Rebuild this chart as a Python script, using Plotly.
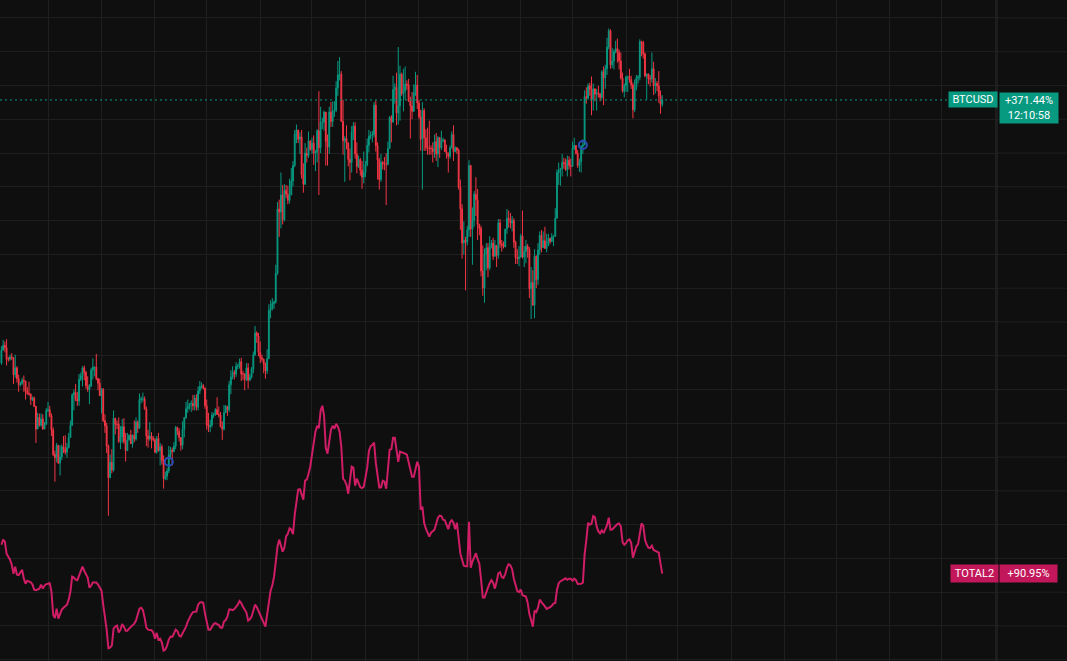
import pandas as pd
import plotly.graph_objects as go

# ---------------- data ----------------
# BTCUSD daily candles from 2024-06-04 to 2025-06-22 (prices in thousand USD)
DATE_START = "2024-06-04"
BTC_FIRST_OPEN = 68.8
BTC_BASE = 21.8          # price that the percentage scale treats as 0 %

BTC_CLOSE = (
    # Jun 2024 (4..30)
    [70.5, 71.1, 70.8, 69.3, 69.3, 69.6, 69.5, 67.3, 68.2, 66.8, 66.0, 66.2, 66.6, 66.5, 65.2, 64.9, 64.8, 64.1, 64.3, 63.2,
     60.3, 61.8, 60.8, 61.6, 60.3, 60.9, 62.7]
    # Jul
    + [62.8, 62.0, 60.2, 57.0, 56.6, 58.2, 55.9, 56.7, 58.0, 57.7, 57.3, 57.9, 59.2, 60.8, 64.7, 65.0, 64.1, 63.9, 66.7, 67.2,
       68.2, 67.6, 65.9, 65.4, 65.8, 67.9, 68.3, 68.3, 66.8, 66.2, 64.6]
    # Aug
    + [65.4, 61.4, 60.7, 58.1, 54.0, 56.0, 55.0, 61.7, 60.9, 60.9, 58.7, 59.3, 60.6, 58.7, 57.5, 58.9, 59.5, 58.4, 59.5, 59.0,
       61.2, 60.4, 64.1, 64.2, 64.2, 62.9, 59.4, 59.0, 59.4, 59.1, 58.9]
    # Sep
    + [57.3, 59.1, 57.5, 58.0, 56.2, 53.9, 54.2, 54.9, 57.0, 57.6, 57.4, 58.1, 60.5, 60.0, 59.2, 58.2, 60.3, 61.8, 62.9, 63.2,
       63.6, 63.6, 63.3, 64.3, 63.1, 65.2, 65.8, 65.9, 65.6, 63.3]
    # Oct
    + [60.8, 60.6, 60.8, 62.1, 62.1, 62.8, 62.2, 62.1, 60.6, 60.3, 62.4, 63.2, 62.8, 66.0, 67.0, 67.6, 67.4, 68.4, 68.4, 69.0,
       67.4, 67.4, 66.7, 68.2, 66.6, 67.0, 68.0, 69.9, 72.7, 72.3, 70.2]
    # Nov
    + [69.5, 69.3, 68.7, 67.8, 69.4, 75.6, 75.9, 76.5, 76.7, 80.4, 88.7, 88.3, 90.5, 87.3, 91.1, 90.6, 89.8, 90.5, 92.3, 94.3,
       98.4, 98.9, 97.7, 98.0, 93.1, 91.9, 95.9, 95.6, 97.5, 96.4]
    # Dec
    + [97.2, 95.9, 96.0, 98.8, 96.6, 99.9, 99.9, 101.2, 97.4, 96.7, 101.2, 100.0, 101.4, 101.4, 104.3, 106.0, 106.1, 100.0, 97.5, 97.8,
       97.2, 95.1, 94.7, 98.6, 99.4, 95.8, 94.2, 95.1, 93.7, 92.8, 93.4]
    # Jan 2025
    + [94.4, 96.9, 98.1, 98.2, 98.3, 102.1, 96.9, 95.0, 92.5, 94.7, 94.5, 94.5, 94.5, 96.5, 100.5, 99.9, 104.1, 104.4, 101.1, 102.0,
       106.1, 103.6, 103.9, 104.8, 104.7, 102.6, 102.0, 101.3, 103.7, 104.7, 102.4]
    # Feb
    + [100.6, 97.7, 101.4, 97.9, 96.6, 96.6, 96.5, 96.5, 96.1, 97.4, 95.8, 97.9, 96.6, 97.5, 97.6, 96.1, 95.8, 95.5, 96.6, 98.3,
       96.1, 96.6, 96.3, 91.5, 88.7, 84.3, 84.7, 84.4]
    # Mar
    + [86.0, 94.3, 86.1, 87.2, 90.6, 89.9, 86.7, 86.2, 80.7, 78.5, 82.9, 83.7, 81.1, 83.9, 84.3, 82.6, 84.0, 82.7, 86.9, 84.2,
       84.0, 83.8, 86.1, 87.5, 87.4, 86.9, 87.2, 84.4, 82.4, 82.3, 82.5]
    # Apr
    + [85.2, 82.5, 83.2, 83.9, 83.5, 78.4, 79.2, 76.3, 82.6, 79.6, 83.4, 85.3, 83.7, 84.6, 83.6, 84.0, 84.9, 84.5, 85.1, 85.2,
       87.5, 93.4, 93.7, 93.9, 94.7, 94.6, 93.8, 95.0, 94.3, 94.2]
    # May
    + [96.5, 96.9, 95.9, 94.3, 94.8, 96.8, 97.0, 103.2, 103.0, 104.6, 104.2, 102.8, 104.2, 103.5, 103.7, 103.5, 103.1, 106.4, 105.6, 106.8,
       109.6, 111.7, 107.3, 107.8, 109.0, 109.4, 108.9, 107.8, 105.6, 103.9, 104.6]
    # Jun (1..22)
    + [105.7, 105.8, 105.4, 104.7, 101.5, 104.4, 105.6, 105.7, 110.3, 110.2, 108.7, 105.9, 106.1, 105.5, 105.5, 106.8, 104.6, 104.9, 104.6, 103.3,
       102.2, 102.774]
)

BTC_HIGH = (
    [71.0, 71.8, 71.6, 71.9, 69.6, 69.9, 70.1, 69.6, 69.9, 68.4, 67.3, 66.4, 66.9, 67.2, 66.5, 65.7, 66.4, 64.9, 64.5, 64.5,
     63.3, 62.4, 62.3, 62.3, 62.2, 61.2, 63.0]
    + [63.8, 63.3, 62.3, 60.5, 57.5, 58.5, 58.2, 58.2, 58.3, 59.4, 59.5, 58.5, 59.8, 61.4, 64.9, 65.4, 66.1, 65.1, 67.4, 67.6,
       68.4, 68.5, 67.8, 67.1, 66.1, 68.2, 69.4, 68.3, 70.0, 66.9, 66.8]
    + [65.6, 65.6, 62.2, 61.1, 58.3, 57.0, 57.7, 62.7, 61.7, 61.4, 61.8, 60.7, 61.6, 61.7, 59.8, 59.8, 59.6, 60.2, 59.6, 61.4,
       61.8, 61.4, 64.9, 64.5, 65.0, 64.5, 63.2, 60.2, 61.2, 59.9, 59.4]
    + [59.1, 59.4, 59.8, 58.5, 58.3, 56.9, 54.8, 55.3, 58.1, 58.0, 57.9, 58.6, 60.7, 60.6, 60.4, 59.2, 61.3, 61.8, 63.8, 64.1,
       63.6, 64.0, 64.7, 64.7, 64.8, 65.8, 66.5, 66.3, 66.1, 65.6]
    + [64.1, 62.4, 61.5, 62.5, 62.4, 63.0, 64.4, 63.2, 62.5, 61.3, 63.4, 63.4, 63.3, 66.5, 67.9, 68.4, 67.9, 68.9, 68.7, 69.4,
       69.5, 67.8, 67.5, 68.8, 68.8, 67.4, 68.3, 70.3, 73.6, 72.9, 72.7]
    + [71.6, 69.9, 69.4, 68.9, 70.6, 76.4, 76.9, 77.2, 76.9, 81.5, 89.6, 89.9, 93.4, 91.8, 91.9, 91.8, 91.7, 92.6, 94.0, 94.9,
       98.9, 99.6, 98.8, 98.6, 98.9, 94.6, 97.2, 96.6, 98.7, 97.5]
    + [97.9, 98.2, 96.3, 99.0, 103.9, 101.9, 100.5, 101.4, 101.2, 98.3, 101.9, 102.5, 102.6, 102.6, 105.2, 107.8, 108.3, 106.5, 102.8, 98.1,
       99.5, 97.3, 96.5, 99.4, 99.9, 99.9, 97.3, 95.6, 95.3, 94.9, 96.1]
    + [94.9, 97.8, 98.9, 98.7, 98.8, 102.5, 102.7, 97.3, 95.3, 95.8, 94.9, 95.4, 95.9, 97.4, 100.7, 100.8, 105.9, 104.9, 106.3, 109.6,
       107.2, 106.3, 106.8, 107.1, 105.3, 105.5, 103.2, 103.8, 104.8, 106.4, 106.0]
    + [102.8, 101.5, 102.5, 101.7, 99.0, 99.2, 100.1, 96.9, 97.3, 98.3, 98.5, 98.1, 98.0, 98.8, 97.9, 97.7, 97.0, 96.0, 96.9, 98.7,
       99.5, 96.8, 96.7, 96.5, 92.5, 89.3, 87.1, 85.1]
    + [86.5, 95.0, 94.4, 88.9, 91.0, 92.8, 91.3, 86.8, 86.5, 84.0, 83.6, 84.3, 84.3, 85.2, 84.7, 85.0, 84.7, 84.0, 87.4, 87.4,
       84.7, 84.5, 86.1, 88.7, 88.5, 88.2, 87.8, 87.5, 84.6, 83.5, 83.9]
    + [85.5, 88.5, 83.9, 84.7, 84.2, 83.8, 81.2, 80.8, 83.5, 82.7, 84.3, 85.8, 86.0, 85.8, 86.4, 85.5, 85.5, 85.0, 85.6, 85.3,
       88.8, 93.8, 94.7, 94.0, 95.8, 95.3, 95.2, 95.6, 95.5, 95.2]
    + [97.4, 97.9, 96.9, 96.3, 95.2, 96.9, 97.7, 104.0, 104.4, 104.9, 105.0, 105.8, 104.9, 104.3, 104.2, 104.6, 103.7, 106.6, 107.1, 107.3,
       110.8, 112.0, 111.9, 109.5, 109.3, 110.4, 110.7, 109.3, 108.9, 106.3, 104.9]
    + [105.9, 105.9, 106.8, 105.9, 105.0, 105.4, 106.0, 106.0, 110.6, 110.4, 110.4, 108.9, 106.2, 106.2, 106.0, 108.9, 107.7, 105.6, 105.2, 106.5,
       104.0, 103.4]
)

BTC_LOW = (
    [68.6, 70.4, 70.2, 68.5, 69.0, 69.1, 69.2, 66.1, 66.9, 66.3, 65.1, 65.8, 66.0, 65.1, 64.1, 64.7, 64.6, 63.4, 63.9, 63.2,
     58.5, 60.3, 60.6, 60.6, 60.2, 60.4, 60.8]
    + [62.5, 61.8, 59.4, 56.8, 53.5, 56.0, 55.8, 54.3, 56.3, 57.2, 57.0, 56.6, 57.8, 59.3, 60.7, 62.7, 63.9, 63.3, 63.3, 66.5,
       65.8, 66.6, 65.5, 65.1, 63.5, 65.8, 66.7, 67.1, 66.6, 65.3, 64.6]
    + [62.3, 61.2, 59.8, 57.2, 49.1, 54.0, 54.6, 54.8, 59.6, 60.3, 58.5, 57.7, 58.5, 58.4, 56.1, 57.7, 58.8, 58.4, 57.9, 58.6,
       58.8, 59.8, 60.3, 63.6, 63.8, 62.8, 58.1, 57.9, 58.8, 57.8, 58.7]
    + [57.2, 57.1, 57.4, 55.6, 55.7, 52.6, 53.7, 53.7, 54.6, 56.4, 55.6, 57.3, 57.7, 59.5, 58.7, 57.5, 57.7, 59.2, 61.6, 62.4,
       62.8, 62.5, 62.7, 62.7, 62.7, 62.7, 64.8, 65.5, 65.4, 62.9]
    + [60.2, 59.9, 59.9, 60.5, 61.7, 62.0, 62.1, 61.8, 60.5, 58.9, 60.1, 62.4, 62.0, 62.5, 64.8, 66.7, 66.7, 67.0, 68.0, 68.1,
       66.5, 66.6, 65.3, 66.5, 65.5, 66.5, 66.8, 67.5, 69.7, 71.4, 69.7]
    + [68.8, 69.0, 67.5, 66.8, 67.4, 69.3, 74.6, 75.6, 75.8, 76.5, 80.2, 85.1, 86.2, 86.7, 87.1, 90.1, 89.3, 89.4, 90.5, 91.6,
       94.1, 97.2, 97.2, 95.8, 92.6, 90.8, 91.8, 94.7, 95.3, 96.2]
    + [95.8, 94.4, 93.6, 94.7, 90.5, 95.9, 99.0, 98.8, 94.3, 94.3, 95.8, 99.3, 99.3, 100.6, 101.2, 103.3, 105.3, 100.0, 95.7, 92.2,
       96.4, 94.2, 92.4, 93.4, 97.6, 95.2, 93.3, 94.0, 93.0, 91.3, 92.0]
    + [92.8, 94.2, 96.0, 97.7, 97.3, 97.9, 96.1, 92.5, 91.2, 92.2, 93.8, 93.7, 89.2, 94.3, 96.5, 97.3, 99.9, 102.3, 99.5, 99.6,
       100.1, 103.3, 101.3, 102.8, 104.1, 102.5, 97.8, 100.3, 101.3, 103.3, 101.6]
    + [100.3, 96.2, 91.2, 96.2, 96.2, 95.7, 95.7, 95.7, 94.7, 95.3, 94.9, 94.1, 95.3, 96.3, 97.3, 96.1, 95.2, 93.4, 95.2, 96.5,
       94.9, 96.0, 95.8, 91.2, 86.0, 82.3, 82.8, 78.2]
    + [84.0, 85.1, 85.1, 81.5, 86.4, 87.8, 84.7, 85.3, 80.0, 77.5, 76.6, 80.8, 79.9, 80.8, 83.6, 82.1, 82.5, 81.2, 82.3, 83.7,
       83.2, 83.6, 83.8, 85.5, 86.3, 86.2, 85.8, 83.7, 81.6, 81.6, 81.3]
    + [82.4, 82.3, 81.2, 81.7, 82.4, 77.2, 74.5, 76.2, 74.6, 78.5, 78.9, 82.8, 83.1, 83.7, 83.6, 83.1, 83.9, 84.2, 84.4, 83.9,
       85.1, 87.6, 91.8, 91.7, 92.9, 93.9, 93.6, 92.9, 93.8, 92.9]
    + [94.2, 96.3, 95.7, 94.0, 93.5, 93.4, 95.8, 96.9, 102.3, 102.8, 103.3, 100.8, 101.4, 102.6, 101.4, 103.1, 102.6, 102.9, 102.1, 104.2,
       106.0, 109.3, 106.8, 106.9, 106.7, 108.8, 107.6, 106.7, 105.4, 103.7, 103.1]
    + [103.8, 103.8, 105.0, 104.2, 100.4, 101.2, 104.0, 104.9, 105.3, 108.4, 108.1, 105.7, 102.8, 104.8, 104.5, 105.0, 103.4, 103.6, 103.9, 102.4,
       101.0, 101.9]
)

# TOTAL2, percent change on the same percentage scale (same dates)
TOTAL2_PCT = [
    108.1, 111.1, 109.9, 102.8, 101.0, 99.2, 96.3, 90.9, 95.1, 90.4,
    90.1, 91.6, 93.3, 88.0, 85.0, 86.8, 86.2, 85.9, 84.5, 81.5,
    81.2, 81.5, 82.1, 84.5, 82.1, 83.9, 84.8, 85.0, 85.3, 80.3,
    66.7, 64.6, 70.2, 64.3, 66.7, 69.7, 70.8, 71.7, 72.6, 75.6,
    80.3, 89.2, 88.6, 87.4, 87.1, 89.8, 93.0, 95.1, 92.7, 90.1,
    88.6, 82.7, 83.9, 85.8, 85.8, 85.8, 84.5, 82.7, 80.9, 72.6,
    66.1, 57.8, 46.9, 47.2, 48.4, 58.4, 59.6, 60.2, 56.1, 57.8,
    61.1, 59.6, 57.2, 57.2, 58.4, 59.3, 60.2, 61.4, 63.2, 66.1,
    70.2, 70.8, 69.4, 64.9, 59.0, 57.8, 57.8, 57.5, 56.1, 52.5,
    55.9, 51.9, 52.5, 50.1, 45.4, 46.0, 48.4, 51.9, 53.7, 53.5,
    55.5, 57.8, 57.0, 54.3, 53.7, 55.5, 57.8, 59.6, 62.6, 64.9,
    66.7, 68.2, 68.5, 68.5, 72.6, 73.8, 74.1, 73.6, 67.3, 62.0,
    57.8, 57.8, 59.9, 61.1, 61.7, 61.1, 60.5, 59.0, 59.0, 62.6,
    63.5, 65.5, 69.7, 69.7, 69.4, 70.0, 71.2, 72.6, 74.7, 73.5,
    71.4, 70.0, 67.9, 63.2, 64.0, 65.5, 69.1, 72.6, 71.2, 68.8,
    65.8, 63.5, 61.4, 59.6, 66.7, 75.6, 80.9, 83.9, 89.2, 97.8,
    107.0, 111.1, 107.8, 104.0, 106.3, 113.0, 114.6, 117.9, 117.0, 114.3,
    125.9, 134.2, 140.7, 141.0, 138.3, 134.8, 146.0, 146.6, 150.1, 154.3,
    161.4, 167.9, 175.0, 178.5, 177.1, 187.4, 190.4, 184.5, 165.5, 162.0,
    168.5, 176.2, 178.5, 176.8, 179.7, 178.0, 175.0, 166.1, 147.2, 146.0,
    143.6, 138.3, 146.0, 154.3, 153.7, 143.0, 147.2, 144.8, 142.1, 141.6,
    142.4, 147.8, 153.7, 163.7, 166.4, 167.3, 168.5, 156.6, 147.8, 141.9,
    142.1, 146.0, 145.4, 141.3, 152.5, 164.3, 164.6, 171.4, 171.4, 165.5,
    157.2, 163.2, 162.9, 162.4, 162.0, 161.4, 157.2, 152.8, 148.4, 148.4,
    153.1, 157.2, 154.3, 128.8, 130.6, 121.1, 117.6, 115.2, 112.9, 115.2,
    116.4, 117.0, 120.5, 124.1, 125.3, 125.0, 122.9, 122.6, 119.9, 117.3,
    121.3, 122.6, 121.1, 117.3, 121.1, 109.9, 102.8, 99.2, 95.7, 95.3,
    95.3, 121.7, 94.5, 98.1, 101.3, 103.1, 99.5, 96.9, 87.4, 76.8,
    76.8, 80.6, 82.7, 85.3, 87.1, 85.6, 82.1, 86.2, 91.2, 91.8,
    89.0, 88.5, 90.7, 94.5, 96.6, 95.9, 93.6, 88.0, 83.3, 80.6,
    80.0, 81.5, 78.2, 77.8, 77.4, 73.8, 67.0, 63.5, 59.6, 69.1,
    68.2, 70.8, 75.6, 74.1, 73.1, 71.6, 70.1, 70.5, 71.1, 72.0,
    73.2, 73.6, 81.5, 85.3, 86.5, 87.0, 87.7, 88.2, 87.4, 88.0,
    87.9, 86.8, 88.0, 87.1, 84.9, 85.0, 85.0, 85.6, 102.2, 110.8,
    121.1, 119.9, 120.5, 125.0, 124.4, 118.8, 116.0, 114.9, 116.6, 115.0,
    117.0, 119.7, 124.1, 117.0, 117.1, 118.2, 119.1, 120.3, 120.7, 119.0,
    109.6, 108.1, 109.0, 110.8, 111.3, 109.3, 100.4, 104.0, 107.0, 108.4,
    113.8, 120.7, 119.4, 111.1, 108.1, 106.3, 106.2, 107.5, 105.0, 104.4,
    104.2, 103.4, 96.9, 90.95,
]

EVENT_DATES = ["2024-09-09", "2025-05-07"]
EVENT_PCT = [157.2, 344.8]

SYMBOL_BTC = "BTCUSD"
SYMBOL_TOTAL2 = "TOTAL2"
COUNTDOWN = "12:10:58"

# ---------------- styling ----------------
BG = "#0f0f0f"
GRID = "#1f1f1f"
UP = "#089981"
DOWN = "#f23645"
PINK_LINE = "#cf1d66"
PINK_LABEL = "#c2185b"
EVENT_BLUE = "#2a4db5"
FONT = "Roboto, 'Liberation Sans', sans-serif"

W, H = 1067, 661
PLOT_W = 997          # right price scale is 70 px wide
X_RANGE = ["2024-06-03 04:19", "2026-01-02 00:29"]
Y_RANGE = [39.25, 430.61]
GRID_STEP = 20

n = len(BTC_CLOSE)
assert len(BTC_HIGH) == n and len(BTC_LOW) == n and len(TOTAL2_PCT) == n, (n, len(BTC_HIGH), len(BTC_LOW), len(TOTAL2_PCT))
dates = pd.date_range(DATE_START, periods=n, freq="D")

btc_open = [BTC_FIRST_OPEN] + BTC_CLOSE[:-1]
btc_high = [max(h, o, c) for h, o, c in zip(BTC_HIGH, btc_open, BTC_CLOSE)]
btc_low = [min(l, o, c) for l, o, c in zip(BTC_LOW, btc_open, BTC_CLOSE)]


def pct(values):
    return [(v / BTC_BASE - 1.0) * 100.0 for v in values]


fig = go.Figure()
fig.add_trace(go.Scatter(
    x=dates, y=TOTAL2_PCT, mode="lines",
    line=dict(color=PINK_LINE, width=2), hoverinfo="skip",
))
fig.add_trace(go.Candlestick(
    x=dates, open=pct(btc_open), high=pct(btc_high), low=pct(btc_low), close=pct(BTC_CLOSE),
    increasing=dict(line=dict(color=UP, width=1), fillcolor=UP),
    decreasing=dict(line=dict(color=DOWN, width=1), fillcolor=DOWN),
    whiskerwidth=0, hoverinfo="skip",
))
fig.add_trace(go.Scatter(
    x=pd.to_datetime(EVENT_DATES), y=EVENT_PCT, mode="markers",
    marker=dict(symbol="circle-open", size=8, color=EVENT_BLUE, line=dict(width=2, color=EVENT_BLUE)),
    hoverinfo="skip",
))

btc_last = pct([BTC_CLOSE[-1]])[0]
t2_last = TOTAL2_PCT[-1]

# horizontal grid continues through the right price-scale area
g = GRID_STEP * int(Y_RANGE[0] // GRID_STEP + 1)
while g < Y_RANGE[1]:
    fig.add_shape(type="line", xref="paper", yref="y", x0=1, x1=W / PLOT_W, y0=g, y1=g,
                  line=dict(color=GRID, width=1), layer="below")
    g += GRID_STEP

# last-price dotted line
fig.add_shape(type="line", xref="paper", yref="y", x0=0, x1=948 / PLOT_W, y0=btc_last, y1=btc_last,
              line=dict(color=UP, width=1, dash="2px,3px"))
# price-scale border
fig.add_shape(type="line", xref="paper", yref="paper", x0=1, x1=1, y0=0, y1=1,
              line=dict(color="#2a2a2a", width=1))

lab_font = dict(family=FONT, size=11, color="#ffffff")
fig.add_annotation(xref="paper", yref="y", x=948.3 / PLOT_W, y=btc_last, xanchor="left", yanchor="middle",
                   text=SYMBOL_BTC, showarrow=False, bgcolor=UP, width=48, height=15, borderpad=0,
                   font=lab_font, align="center")
fig.add_annotation(xref="paper", yref="y", x=999 / PLOT_W, y=btc_last, xanchor="left", yanchor="top", yshift=7.5,
                   text=f"{btc_last:+.2f}%<br>{COUNTDOWN}", showarrow=False, bgcolor=UP, width=58, height=30,
                   borderpad=0, font=lab_font, align="center")
fig.add_annotation(xref="paper", yref="y", x=950 / PLOT_W, y=t2_last, xanchor="left", yanchor="middle",
                   text=SYMBOL_TOTAL2, showarrow=False, bgcolor=PINK_LABEL, width=47, height=17, borderpad=0,
                   font=lab_font, align="center")
fig.add_annotation(xref="paper", yref="y", x=999.3 / PLOT_W, y=t2_last, xanchor="left", yanchor="middle",
                   text=f"{t2_last:+.2f}%", showarrow=False, bgcolor=PINK_LABEL, width=57, height=17, borderpad=0,
                   font=lab_font, align="center")

fig.update_layout(
    width=W, height=H, margin=dict(l=0, r=W - PLOT_W, t=0, b=0),
    paper_bgcolor=BG, plot_bgcolor=BG, showlegend=False,
    xaxis=dict(type="date", range=X_RANGE, showgrid=True, gridcolor=GRID, gridwidth=1,
               dtick="M1", tick0="2024-01-01", showticklabels=False, ticks="", zeroline=False,
               showline=False, rangeslider=dict(visible=False), fixedrange=True),
    yaxis=dict(range=Y_RANGE, dtick=GRID_STEP, tick0=0, showgrid=True, gridcolor=GRID, gridwidth=1,
               showticklabels=False, ticks="", zeroline=False, showline=False, side="right", fixedrange=True),
    hovermode=False,
)

PAGE_JS = ("document.body.style.margin='0';document.body.style.padding='0';"
           "document.body.style.background='" + BG + "';document.body.style.overflow='hidden';")
fig.write_html("out.html", config={"displayModeBar": False}, post_script=PAGE_JS)
